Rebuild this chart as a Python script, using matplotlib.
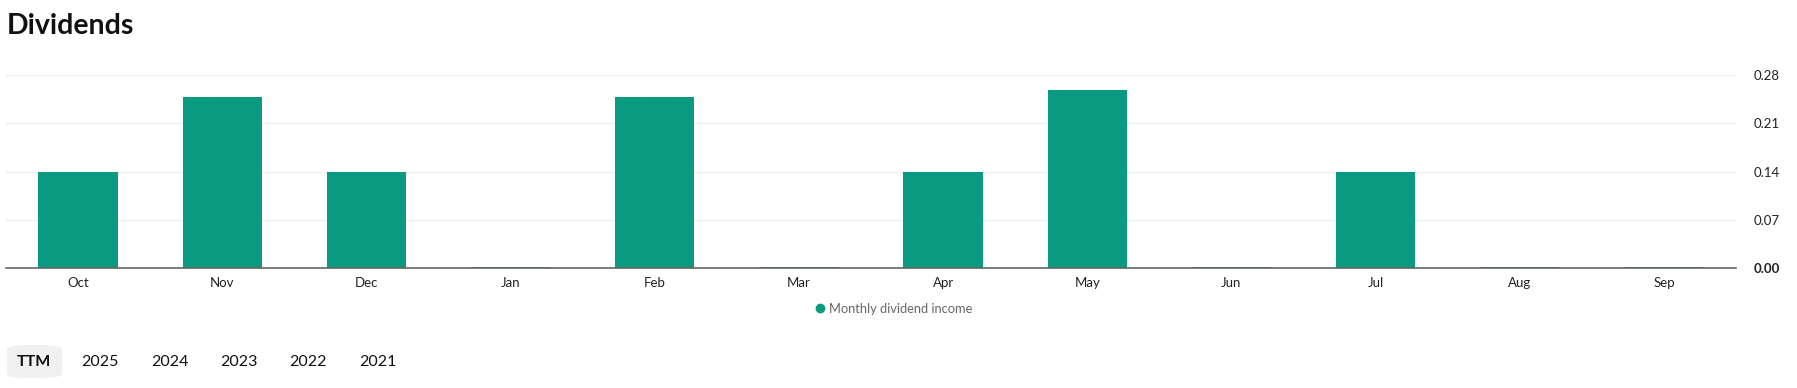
import matplotlib
matplotlib.use("Agg")
import matplotlib.pyplot as plt
from matplotlib.lines import Line2D
from matplotlib.patches import FancyBboxPatch

months = ["Oct", "Nov", "Dec", "Jan", "Feb", "Mar", "Apr", "May", "Jun", "Jul", "Aug", "Sep"]
income = [0.140, 0.248, 0.140, 0.002, 0.248, 0.002, 0.140, 0.258, 0.002, 0.140, 0.002, 0.002]
yticks = [0.00, 0.07, 0.14, 0.21, 0.28]
periods = ["TTM", "2025", "2024", "2023", "2022", "2021"]
series_name = "Monthly dividend income"

BAR = "#0a9a81"
FONT = ["Lato", "DejaVu Sans"]
plt.rcParams["font.family"] = FONT

W, H = 1797, 388
fig = plt.figure(figsize=(W / 100, H / 100), dpi=100)

def fx(px):
    return px / W

def fy(py):
    return 1 - py / H

ax = fig.add_axes([fx(6), fy(268.3), fx(1736) - fx(6), fy(75) - fy(268.3)])
x = list(range(len(months)))
ax.bar(x, income, width=0.55, color=BAR, zorder=3)
ax.set_xlim(-0.5, len(months) - 0.5)
ax.set_ylim(0, 0.28)
ax.set_xticks(x)
ax.set_xticklabels(months, fontsize=9.5, color="#222222")
ax.set_yticks(yticks)
ax.yaxis.tick_right()
ax.set_yticklabels([f"{v:.2f}" for v in yticks], fontsize=9.5, color="#222222")
for lbl, v in zip(ax.get_yticklabels(), yticks):
    if v == 0:
        lbl.set_fontweight("bold")
    lbl.set_horizontalalignment("left")
ax.tick_params(axis="y", length=0, pad=12.5)
ax.tick_params(axis="x", length=0, pad=6)
ax.grid(axis="y", color="#eeeeee", linewidth=1, zorder=0)
for s in ["top", "right", "left"]:
    ax.spines[s].set_visible(False)
ax.spines["bottom"].set_color("#666666")
ax.spines["bottom"].set_linewidth(1.2)
ax.spines["bottom"].set_zorder(4)

fig.text(fx(7), fy(34.5), "Dividends", fontsize=20.5, fontweight="bold",
         color="#111111", ha="left", va="baseline")

handle = Line2D([], [], marker="o", linestyle="none", markersize=6,
                markerfacecolor=BAR, markeredgecolor=BAR)
leg = fig.legend([handle], [series_name], loc="center",
                 bbox_to_anchor=(fx(893), fy(309)), frameon=False,
                 fontsize=9.3, handletextpad=0.2, handlelength=1.0)
for t in leg.get_texts():
    t.set_color("#666666")

# period selector
centers = [34, 100, 170, 239, 308, 378]
btn = FancyBboxPatch((fx(7), fy(378)), fx(62) - fx(7), fy(345) - fy(378),
                     boxstyle="round,pad=0,rounding_size=0.012",
                     transform=fig.transFigure, facecolor="#f0f0f0",
                     edgecolor="none", mutation_aspect=H / W * 4.6)
fig.patches.append(btn)
for c, p in zip(centers, periods):
    fig.text(fx(c), fy(362), p, fontsize=11.5, ha="center", va="center",
             color="#111111", fontweight="bold" if p == "TTM" else "normal")

fig.savefig("out.png", dpi=100, facecolor="white")
